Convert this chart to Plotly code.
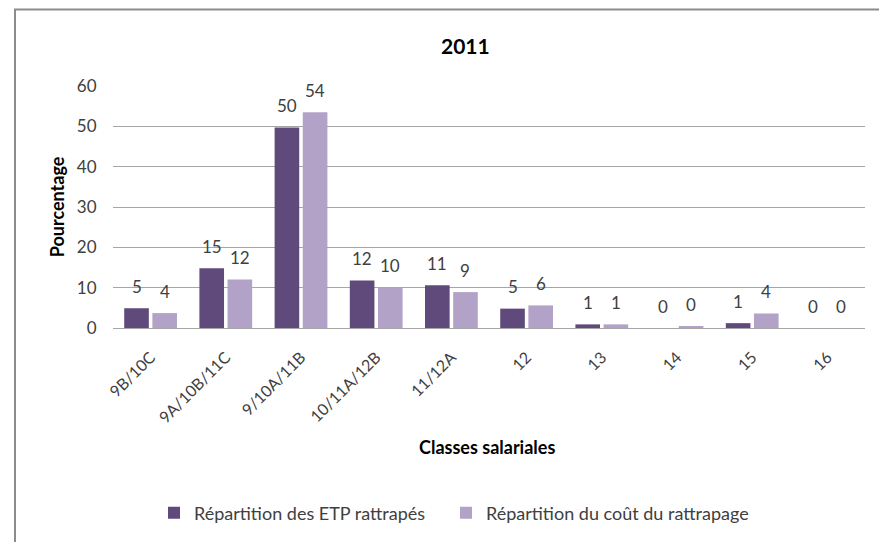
import plotly.graph_objects as go

categories = ["9B/10C", "9A/10B/11C", "9/10A/11B", "10/11A/12B", "11/12A", "12", "13", "14", "15", "16"]
etp_values = [4.9, 14.8, 49.7, 11.8, 10.6, 4.8, 0.9, 0.0, 1.2, 0.0]
cout_values = [3.7, 12.0, 53.5, 10.0, 8.9, 5.6, 0.9, 0.3, 3.6, 0.0]
series_names = ["Répartition des ETP rattrapés", "Répartition du coût du rattrapage"]
y_ticks = [0, 10, 20, 30, 40, 50, 60]

FONT = "Lato, Calibri, Carlito, sans-serif"
TXT = "#404040"
COLORS = ["#604A7B", "#B3A2C7"]

# The page body adds an 8px offset; targets are given in screen px.
OFF = 8
W, H = 887 - OFF, 542 - OFF
L = 113 - OFF
R = W - (865 - OFF)
T = 86 - OFF
B = H - (329.5 - OFF)
pw, ph = W - L - R, H - T - B

def px_x(x):
    return (x - OFF - L) / pw

def px_y(y):
    return (H - B - (y - OFF)) / ph

fig = go.Figure()
for name, vals, col, lg in zip(series_names, [etp_values, cout_values], COLORS, ["legend", "legend2"]):
    fig.add_trace(go.Bar(
        x=categories, y=vals, name=name, legend=lg,
        marker=dict(color=col, line=dict(width=0)),
        cliponaxis=False,
    ))

# data labels (rounded values) above each bar
BARGAP, GROUPGAP = 0.251, 0.126
cat_px = pw / len(categories)
slot = (1 - BARGAP) / 2 * cat_px
for k, vals in enumerate([etp_values, cout_values]):
    shift = (k - 0.5) * slot
    for i, v in enumerate(vals):
        fig.add_annotation(x=i, y=v, xref="x", yref="y", text=f"{v:.0f}", showarrow=False,
                           xshift=shift, yshift=22, xanchor="center", yanchor="middle",
                           font=dict(family=FONT, size=17, color=TXT))

fig.update_layout(
    width=W, height=H,
    margin=dict(l=L, r=R, t=T, b=B, pad=0),
    paper_bgcolor="white", plot_bgcolor="white",
    barmode="group", bargap=BARGAP, bargroupgap=GROUPGAP,
    font=dict(family=FONT, size=16, color=TXT),
    showlegend=True,
    legend=dict(orientation="h", x=px_x(154), y=px_y(514), xanchor="left", yanchor="middle",
                font=dict(family=FONT, size=18, color=TXT), itemwidth=30,
                bgcolor="rgba(0,0,0,0)"),
    legend2=dict(orientation="h", x=px_x(446), y=px_y(514), xanchor="left", yanchor="middle",
                 font=dict(family=FONT, size=18, color=TXT), itemwidth=30,
                 bgcolor="rgba(0,0,0,0)"),
)
fig.update_xaxes(
    type="category", categoryorder="array", categoryarray=categories,
    range=[-0.5, len(categories) - 0.5], tickangle=-45, showgrid=False, showline=False,
    ticks="", ticklabelstandoff=16, tickfont=dict(family=FONT, size=16, color=TXT), automargin=False,
)
fig.update_yaxes(
    range=[0, 60], tickvals=y_ticks, showgrid=True, gridcolor="#A6A6A6", gridwidth=1,
    zeroline=True, zerolinecolor="#A6A6A6", zerolinewidth=1, showline=False,
    ticks="outside", ticklen=12, tickcolor="rgba(0,0,0,0)",
    tickfont=dict(family=FONT, size=17, color=TXT), automargin=False,
)

# Title and axis titles
fig.add_annotation(text="<b>2011</b>", x=px_x(465), y=px_y(45), xref="paper", yref="paper",
                   showarrow=False, font=dict(family=FONT, size=21, color="#000000"),
                   xanchor="center", yanchor="middle")
fig.add_annotation(text="<b>Pourcentage</b>", x=px_x(57), y=px_y(208), xref="paper", yref="paper",
                   showarrow=False, textangle=-90, font=dict(family=FONT, size=18, color="#000000"),
                   xanchor="center", yanchor="middle")
fig.add_annotation(text="<b>Classes salariales</b>", x=px_x(487), y=px_y(449), xref="paper", yref="paper",
                   showarrow=False, font=dict(family=FONT, size=18, color="#000000"),
                   xanchor="center", yanchor="middle")

# Outer chart frame
fig.add_shape(type="rect", xref="paper", yref="paper",
              x0=px_x(15), y0=px_y(620), x1=px_x(960), y1=px_y(9),
              line=dict(color="#8C8C8C", width=2), fillcolor="rgba(0,0,0,0)", layer="below")

fig.write_html("out.html")
